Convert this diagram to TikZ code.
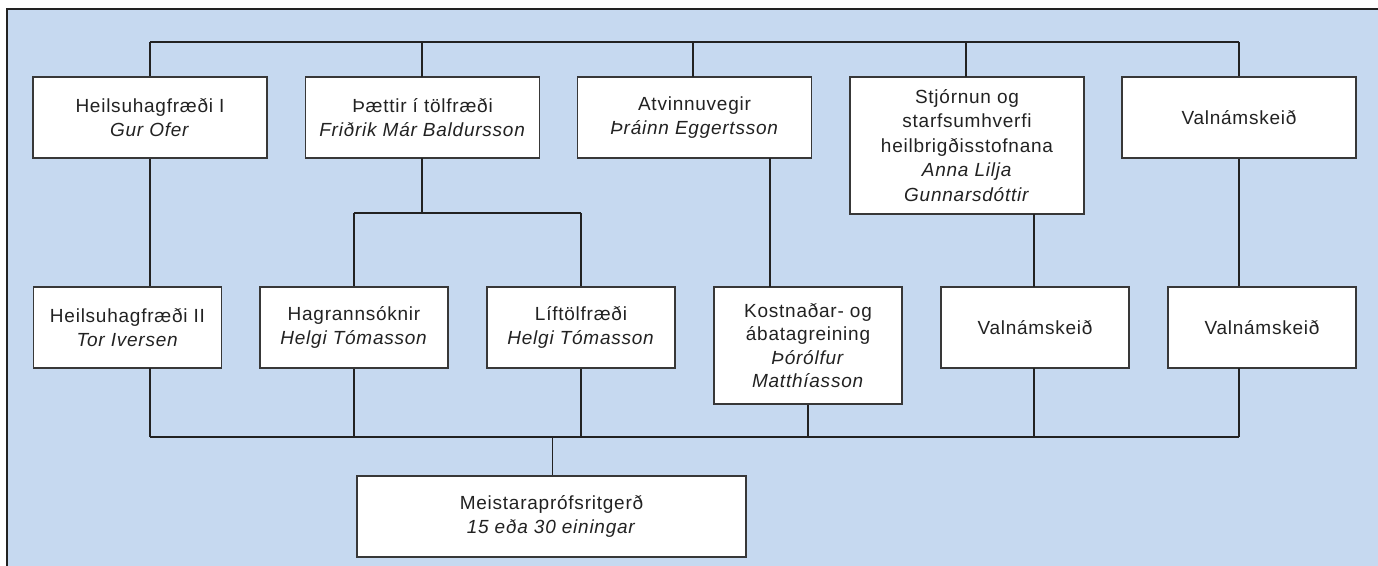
\documentclass[tikz,border=0pt]{standalone}
\usepackage{fontspec}
\setmainfont{Liberation Sans}[LetterSpace=4]
\definecolor{bgblue}{HTML}{C6D9F0}
\definecolor{ink}{HTML}{222222}
\begin{document}
\begin{tikzpicture}[x=1pt,y=-1pt,
  box/.style={draw=ink!90, fill=white, line width=1.3pt, inner sep=0pt, align=center,
    text=ink, font=\fontsize{19}{23.5}\selectfont, minimum height=81pt},
  topbox/.style={box, minimum width=234pt},
  subbox/.style={box, minimum width=188pt},
  conn/.style={draw=ink, line width=1.4pt}]
\useasboundingbox (0,0) rectangle (1378,565);
\fill[bgblue] (7,9) rectangle (1380,567);
\draw[ink, line width=1.8pt] (7,567) -- (7,9) -- (1380,9);

% top row
\node[topbox] (a1) at (150,117.5) {Heilsuhagfræði I\\\textit{Gur Ofer}};
\node[topbox] (a2) at (422.5,117.5) {Þættir í tölfræði\\\textit{Friðrik Már Baldursson}};
\node[topbox] (a3) at (694.5,117.5) {Atvinnuvegir\\\textit{Þráinn Eggertsson}};
\node[topbox, minimum height=137pt, font=\fontsize{19}{24.5}\selectfont] (a4) at (967,145.5) {Stjórnun og\\starfsumhverfi\\heilbrigðisstofnana\\\textit{Anna Lilja}\\\textit{Gunnarsdóttir}};
\node[topbox] (a5) at (1239,117.5) {Valnámskeið};

% second row
\node[subbox] (b1) at (127.5,327.5) {Heilsuhagfræði II\\\textit{Tor Iversen}};
\node[subbox] (b2) at (354,327.5) {Hagrannsóknir\\\textit{Helgi Tómasson}};
\node[subbox] (b3) at (581,327.5) {Líftölfræði\\\textit{Helgi Tómasson}};
\node[subbox, minimum height=117pt] (b4) at (808,345.5) {Kostnaðar- og\\ábatagreining\\\textit{Þórólfur}\\\textit{Matthíasson}};
\node[subbox] (b5) at (1035,327.5) {Valnámskeið};
\node[subbox] (b6) at (1262,327.5) {Valnámskeið};

% bottom
\node[box, minimum width=389pt] (m) at (551.5,516.5) {Meistaraprófsritgerð\\\textit{15 eða 30 einingar}};

% coordinates
\coordinate (top) at (150,42);
\coordinate (mid) at (354,213);
\coordinate (bot) at (150,437);

% top bus
\draw[conn] (top) -- (1239,42);
\draw[conn] (150,42) -- (a1.north);
\draw[conn] (422,42) -- (422,77);
\draw[conn] (693,42) -- (693,77);
\draw[conn] (966,42) -- (966,77);
\draw[conn] (1239,42) -- (a5.north);

% down to second row
\draw[conn] (a1.south) -- (a1.south |- b1.north);
\draw[conn] (422,158) -- (422,213);
\draw[conn] (mid) -- (581,213);
\draw[conn] (mid) -- (b2.north);
\draw[conn] (581,213) -- (b3.north);
\draw[conn] (770,158) -- (770,287);
\draw[conn] (1034,214) -- (1034,287);
\draw[conn] (a5.south) -- (a5.south |- b6.north);

% bottom bus
\draw[conn] (bot) -- (1239,437);
\draw[conn] (150,368) -- (150,437);
\draw[conn] (b2.south) -- (354,437);
\draw[conn] (b3.south) -- (581,437);
\draw[conn] (b4.south) -- (808,437);
\draw[conn] (1034,368) -- (1034,437);
\draw[conn] (1239,368) -- (1239,437);
\draw[conn] (552.5,437) -- (m.north -| 552.5,0);
\end{tikzpicture}
\end{document}
